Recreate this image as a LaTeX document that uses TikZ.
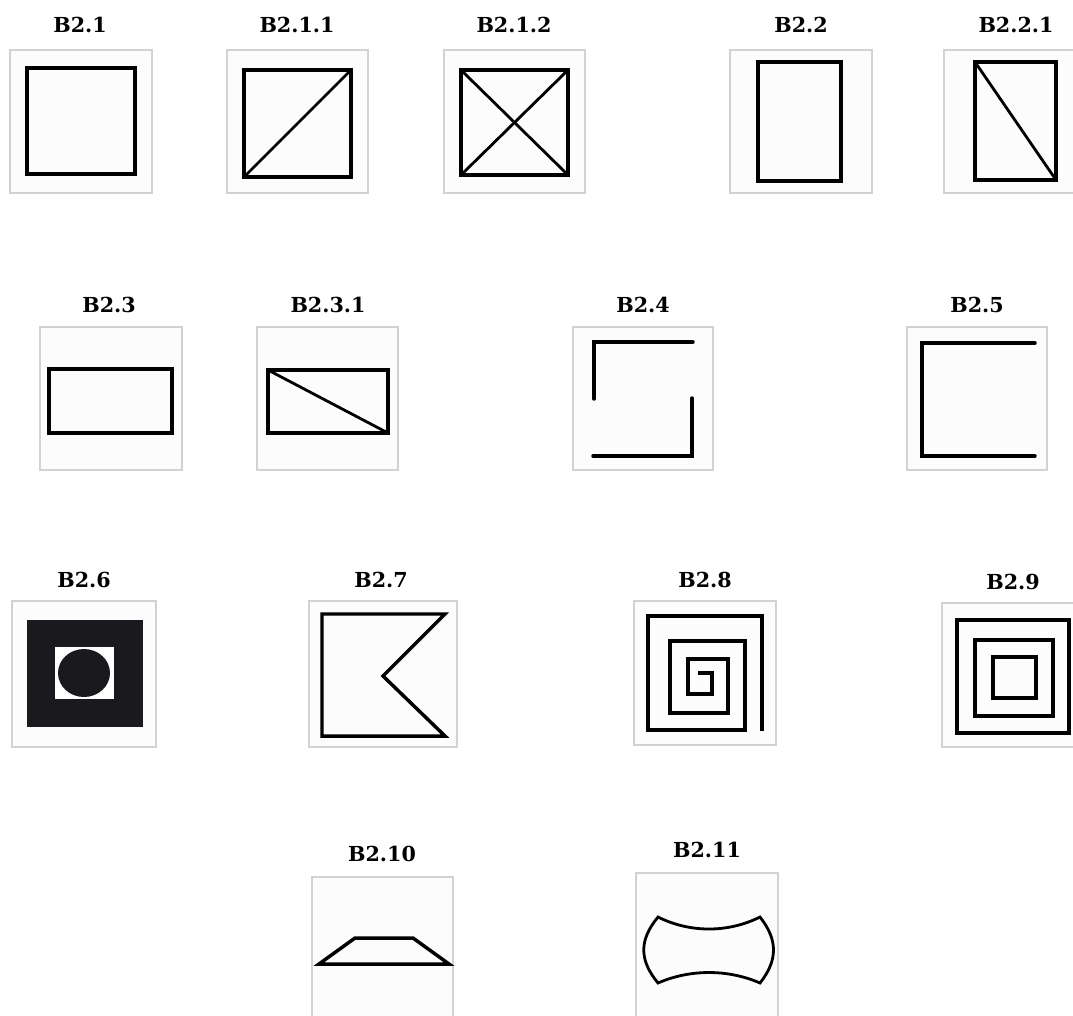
\documentclass[tikz,border=0pt]{standalone}
\usepackage{fontspec}
\setmainfont{DejaVu Serif}
\usepackage{tikz}

\definecolor{panelgray}{HTML}{D2D2D2}
\definecolor{panelfill}{HTML}{FCFCFC}
\definecolor{inkblack}{HTML}{1A1A1E}

\tikzset{
  panel/.style={draw=panelgray, fill=panelfill, line width=1.1pt},
  glyph/.style={draw=black, line width=2.6pt, line join=miter},
  thinglyph/.style={draw=black, line width=2.1pt},
  lbl/.style={font=\fontsize{15.5}{18}\selectfont\bfseries, inner sep=0pt}
}

\begin{document}
\begin{tikzpicture}[x=0.75pt, y=-0.75pt]
            \clip (0,0) rectangle (1073,1015);
            \fill[white] (0,0) rectangle (1073,1015);

            % row 1
            \draw[panel] (10,50) rectangle (152,193);
            \draw[panel] (227,50) rectangle (368,193);
            \draw[panel] (444,50) rectangle (585,193);
            \draw[panel] (730,50) rectangle (872,193);
            \draw[panel] (944,50) rectangle (1080,193);

            \node[lbl] (l21) at (80,25) {B2.1};
            \node[lbl] (l211) at (297,25) {B2.1.1};
            \node[lbl] (l212) at (514,25) {B2.1.2};
            \node[lbl] (l22) at (801,25) {B2.2};
            \node[lbl] (l221) at (1016,25) {B2.2.1};

            \draw[glyph] (27,68) rectangle (135,174);
            \draw[glyph] (244,70) rectangle (351,177);
            \draw[thinglyph] (244,177) -- (351,70);
            \draw[glyph] (461,70) rectangle (568,175);
            \draw[thinglyph] (461,70) -- (568,175);
            \draw[thinglyph] (461,175) -- (568,70);
            \draw[glyph] (758,62) rectangle (841,181);
            \draw[glyph] (975,62) rectangle (1056,180);
            \draw[thinglyph] (975,62) -- (1056,180);

            % row 2
            \draw[panel] (40,327) rectangle (182,470);
            \draw[panel] (257,327) rectangle (398,470);
            \draw[panel] (573,327) rectangle (713,470);
            \draw[panel] (907,327) rectangle (1047,470);

            \node[lbl] (l23) at (109,305) {B2.3};
            \node[lbl] (l231) at (328,305) {B2.3.1};
            \node[lbl] (l24) at (643,305) {B2.4};
            \node[lbl] (l25) at (977,305) {B2.5};

            \draw[glyph] (49,369) rectangle (172,433);
            \draw[glyph] (268,370) rectangle (388,433);
            \draw[thinglyph] (268,370) -- (388,433);
            \draw[glyph, line cap=round] (594,399) -- (594,342) -- (693,342);
            \draw[glyph, line cap=round] (593,456) -- (692,456) -- (692,398);
            \draw[glyph, line cap=round] (1035,343) -- (922,343) -- (922,456) -- (1035,456);

            % row 3
            \draw[panel] (12,601) rectangle (156,747);
            \draw[panel] (309,601) rectangle (457,747);
            \draw[panel] (634,601) rectangle (776,745);
            \draw[panel] (942,603) rectangle (1080,747);

            \node[lbl] (l26) at (84,580) {B2.6};
            \node[lbl] (l27) at (381,580) {B2.7};
            \node[lbl] (l28) at (705,580) {B2.8};
            \node[lbl] (l29) at (1013,582) {B2.9};

            \fill[inkblack] (27,620) rectangle (143,727);
            \fill[white] (55,647) rectangle (114,699);
            \fill[inkblack] (84,673) ellipse [x radius=26, y radius=24];
            \draw[glyph] (322,614) -- (445,614) -- (383,676) -- (445,736) -- (322,736) -- cycle;
            \draw[glyph] (762,731) -- (762,616) -- (648,616) -- (648,730) -- (745,730)
              -- (745,641) -- (670,641) -- (670,713) -- (728,713) -- (728,659)
              -- (688,659) -- (688,694) -- (712,694) -- (712,673) -- (698,673);
            \draw[glyph] (957,620) rectangle (1069,733);
            \draw[glyph] (975,640) rectangle (1053,716);
            \draw[glyph] (993,657) rectangle (1036,698);

            % row 4
            \draw[panel] (312,877) rectangle (453,1030);
            \draw[panel] (636,873) rectangle (778,1030);

            \node[lbl] (l210) at (382,854) {B2.10};
            \node[lbl] (l211b) at (707,850) {B2.11};

            \draw[glyph] (319,964) -- (449,964) -- (413,938) -- (355,938) -- cycle;
            \draw[thinglyph] (658,917) .. controls (690,933) and (728,933) .. (760,917)
              .. controls (778,940) and (778,960) .. (760,983)
              .. controls (728,969) and (690,969) .. (658,983)
              .. controls (639,960) and (639,940) .. (658,917) -- cycle;
        \end{tikzpicture}
\end{document}
